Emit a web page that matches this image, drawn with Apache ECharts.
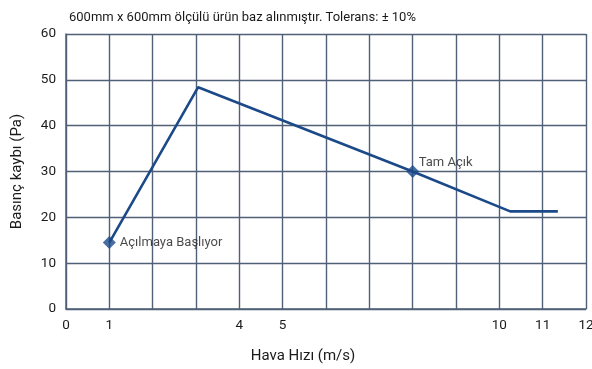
<!DOCTYPE html>
<html><head><meta charset="utf-8">
<script src="https://cdn.jsdelivr.net/npm/echarts@6/dist/echarts.min.js"></script>
<style>html,body{margin:0;padding:0;background:#fff}#c{width:592px;height:369px}</style>
</head><body><div id="c"></div>
<script>
const titleText = '600mm x 600mm ölçülü ürün baz alınmıştır. Tolerans: ± 10%';
const xName = 'Hava Hızı (m/s)';
const yName = 'Basınç kaybı (Pa)';
const xTickLabels = ['0','1','','','4','5','','','','','10','11','12'];
const curveX = [1, 3.05, 8, 10.25, 11.35];
const curveY = [14.5, 48.4, 30, 21.3, 21.3];
const markerX = [1, 8];
const markerY = [14.5, 30];
const markerLabels = ['Açılmaya Başlıyor', 'Tam Açık'];

const font = 'Roboto, "Noto Sans", sans-serif';
const gridColor = '#4f6077';
const lineColor = '#1c4a89';
const textColor = '#1a1a1a';

const chart = echarts.init(document.getElementById('c'), null, {renderer:'canvas'});
chart.setOption({
  animation: false,
  backgroundColor: '#fff',
  title: {text: titleText, left: 64, top: 6, textStyle: {fontFamily: font, fontSize: 13, fontWeight: 'normal', color: textColor}},
  grid: {left: 66, right: 6, top: 34, bottom: 60, outerBoundsMode: 'none', containLabel: false},
  xAxis: {
    type: 'value', min: 0, max: 12, interval: 1,
    name: xName, nameLocation: 'middle', nameGap: 40,
    nameTextStyle: {fontFamily: font, fontSize: 15, color: textColor, padding: [0, 46, 0, 0]},
    axisLine: {show: true, lineStyle: {color: gridColor, width: 1.5}},
    axisTick: {show: false},
    axisLabel: {fontFamily: font, fontSize: 13.5, color: textColor, margin: 10,
      formatter: v => xTickLabels[Math.round(v)] || ''},
    splitLine: {show: true, lineStyle: {color: gridColor, width: 1.4}}
  },
  yAxis: {
    type: 'value', min: 0, max: 60, interval: 10,
    name: yName, nameLocation: 'middle', nameGap: 41,
    nameTextStyle: {fontFamily: font, fontSize: 15, color: textColor},
    axisLine: {show: true, lineStyle: {color: gridColor, width: 1.5}},
    axisTick: {show: false},
    axisLabel: {fontFamily: font, fontSize: 13.5, color: textColor, margin: 10},
    splitLine: {show: true, lineStyle: {color: gridColor, width: 1.4}}
  },
  series: [
    {type: 'line', data: curveX.map((x,i)=>[x, curveY[i]]), symbol: 'none',
     lineStyle: {color: lineColor, width: 2.6}},
    {type: 'scatter', data: markerX.map((x,i)=>({value:[x, markerY[i]], name: markerLabels[i],
       label: i === 0 ? {position:'right', distance: 4} : {position:'top', offset:[33, 7], distance: 3}})),
     symbol: 'diamond', symbolSize: [13, 13],
     itemStyle: {color: lineColor},
     label: {show: true, formatter: p => p.name, fontFamily: font, fontSize: 13, color: textColor}}
  ]
});
</script></body></html>
